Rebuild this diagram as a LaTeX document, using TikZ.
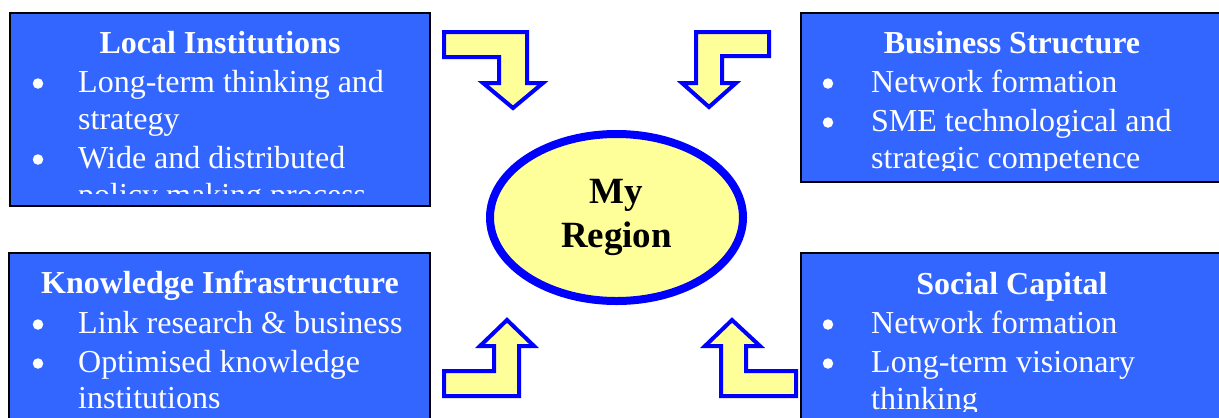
\documentclass[tikz,border=0pt]{standalone}
\usepackage{fontspec}
\setmainfont{Liberation Serif}
\usetikzlibrary{shapes.geometric}
\definecolor{colPane}{RGB}{51,102,255}
\definecolor{colJaune}{RGB}{255,255,153}
\definecolor{colBleu}{RGB}{0,0,255}

\begin{document}
\begin{tikzpicture}[x=1bp, y=-1bp,
    pane/.style={rectangle, draw=black, line width=2bp, fill=colPane,
      inner sep=0pt},
    titre/.style={anchor=base, text=white, inner sep=0pt,
      font=\fontsize{32bp}{38bp}\selectfont\bfseries},
    ligne/.style={anchor=base west, text=white, inner sep=0pt,
      font=\fontsize{32bp}{38bp}\selectfont},
    puce/.style={circle, fill=white, minimum size=10.5bp, inner sep=0pt},
    fleche/.style={draw=colBleu, line width=4bp, fill=colJaune,
      line join=miter}]
    \clip (0,0) rectangle (1219,417);
    % the four panes
    \node[pane, minimum width=420bp, minimum height=193bp] (li) at (220,109.5) {};
    \node[pane, minimum width=430bp, minimum height=169bp] (bs) at (1016,97.5) {};
    \node[pane, minimum width=421bp, minimum height=187bp] (ki) at (219.5,346.5) {};
    \node[pane, minimum width=430bp, minimum height=187bp] (sc) at (1016,346.5) {};
    % local institutions
    \begin{scope}
      \clip (10,13) rectangle (430,193);
      \node[titre] (liT) at (220,53) {Local Institutions};
      \node[puce] (liP1) at (38,83.5) {};
      \node[ligne] (liL1) at (78,92) {Long-term thinking and};
      \node[ligne] (liL2) at (78,129) {strategy};
      \node[puce] (liP2) at (38,159.5) {};
      \node[ligne] (liL3) at (78,168) {Wide and distributed};
      \node[ligne] (liL4) at (78,205) {policy making process};
    \end{scope}
    % business structure
    \begin{scope}
      \clip (801,13) rectangle (1219,170);
      \node[titre] (bsT) at (1012,53) {Business Structure};
      \node[puce] (bsP1) at (828,83.5) {};
      \node[ligne] (bsL1) at (871,92) {Network formation};
      \node[puce] (bsP2) at (828,122.5) {};
      \node[ligne] (bsL2) at (871,131) {SME technological and};
      \node[ligne] (bsL3) at (871,168) {strategic competence};
    \end{scope}
    % knowledge infrastructure
    \node[titre] (kiT) at (220,293) {Knowledge Infrastructure};
    \node[puce] (kiP1) at (38,324.5) {};
    \node[ligne] (kiL1) at (78,333) {Link research \& business};
    \node[puce] (kiP2) at (38,363.5) {};
    \node[ligne] (kiL2) at (78,372) {Optimised knowledge};
    \node[ligne] (kiL3) at (78,408) {institutions};
    % social capital
    \begin{scope}
      \clip (801,253) rectangle (1219,411);
      \node[titre] (scT) at (1012,294) {Social Capital};
      \node[puce] (scP1) at (828,324.5) {};
      \node[ligne] (scL1) at (871,333) {Network formation};
      \node[puce] (scP2) at (828,363.5) {};
      \node[ligne] (scL2) at (871,372) {Long-term visionary};
      \node[ligne] (scL3) at (871,409) {thinking};
    \end{scope}
    % bent arrows
    \draw[fleche] (444,32) -- (527,32) -- (527,83) -- (543,83) -- (513,108)
      -- (483,83) -- (499,83) -- (499,57) -- (444,57) -- cycle;
    \draw[fleche] (769,32) -- (696,32) -- (696,83) -- (682,83) -- (709,107)
      -- (736,83) -- (722,83) -- (722,56) -- (769,56) -- cycle;
    \draw[fleche] (507,320) -- (534,346) -- (519,346) -- (519,396)
      -- (444,396) -- (444,371) -- (494,371) -- (494,346) -- (480,346) -- cycle;
    \draw[fleche] (732,320) -- (705,346) -- (721,346) -- (721,396)
      -- (796,396) -- (796,371) -- (746,371) -- (746,346) -- (760,346) -- cycle;
    % centre
    \node[ellipse, draw=colBleu, line width=8bp, fill=colJaune, align=center,
      minimum width=253bp, minimum height=167bp, inner sep=0pt,
      font=\fontsize{37bp}{44bp}\selectfont\bfseries] (reg) at (616.5,217.5)
      {My\\Region};
  \end{tikzpicture}
\end{document}
